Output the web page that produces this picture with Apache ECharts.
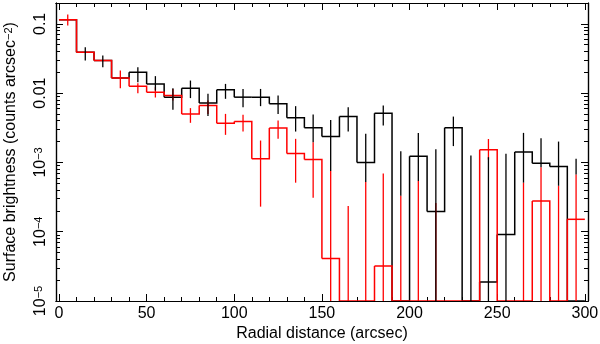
<!DOCTYPE html>
<html>
<head>
<meta charset="utf-8">
<script src="https://cdn.jsdelivr.net/npm/echarts@6/dist/echarts.min.js"></script>
<style>
  html, body { margin: 0; padding: 0; background: #fff; }
  #main { width: 600px; height: 344px; }
</style>
</head>
<body>
<div id="main"></div>
<script>
// bins (left edges, arcsec)
const binLeft = [0, 10, 20, 30, 40, 50, 60, 70, 80, 90, 100, 110, 120, 130, 140,
  150, 160, 170, 180, 190, 200, 210, 220, 230, 240, 250, 260, 270, 280, 290];
const binWidth = 10;

// black profile
const blackVals = [0.115, 0.039, 0.0296, 0.0166, 0.0201, 0.0136, 0.00875, 0.0118, 0.00718, 0.0112,
  0.00875, 0.00875, 0.00701, 0.0044, 0.00316, 0.00237, 0.0046, 0.001, 0.00514, 0,
  0.00123, 0.000195, 0.00316, 0, 0.0000188, 0.0000915, 0.00141, 0.000975, 0.000873, 0];
const blackHi = [null, 0.0461, 0.0349, null, 0.0237, 0.0176, 0.0118, 0.0152, 0.00977, 0.0136,
  0.0115, 0.0115, 0.00923, 0.00649, 0.0049, 0.0041, 0.00628, 0.00259, 0.00662, 0.00145,
  0.00267, 0.00155, 0.00459, 0.00126, 0.00119, 0.00133, 0.00267, 0.00224, 0.002, 0.00113];
const blackLo = [null, 0.0295, 0.0237, null, 0.0144, 0.0109, 0.00574, 0.00848, 0.00466, 0.00828,
  0.00628, 0.00649, 0.00502, 0.00279, 0.00195, 0.00075, 0.00279, 0.00052, 0.0034, 0.00033,
  0.00054, 0, 0.00172, 0, 0, 0, 0.00051, 0.00085, 0.00046, 0.00067];

// red profile
const redVals = [0.115, 0.039, 0.0296, 0.0166, 0.0126, 0.0103, 0.00925, 0.00502, 0.00662, 0.00369,
  0.0039, 0.00113, 0.00313, 0.00135, 0.0011, 0.000041, 0, 0, 0.000032, 0,
  0, 0, 0, 0, 0.00153, 0, 0, 0.000277, 0, 0.000151];
const redHi = [0.136, null, null, 0.0212, 0.0139, 0.0122, 0.0115, 0.00608, 0.00782, 0.00502,
  0.00486, 0.00207, 0.00403, 0.00219, 0.00195, 0.00075, 0.000235, 0.00052, 0.00069, 0.00033,
  0.00054, 0.00026, null, null, 0.00218, null, 0.00051, 0.00085, 0.00046, 0.00067];
const redLo = [0.0945, null, null, 0.0118, 0.01, 0.00865, 0.00782, 0.00373, 0.00502, 0.0025,
  0.00279, 0.00023, 0.00219, 0.00051, 0.00031, 0, 0, 0, 0, 0,
  0, 0, null, null, 0.0011, null, 0, 0, 0, 0];

// axis ticks / labels
const xMajor = [0, 50, 100, 150, 200, 250, 300];
const xMinor = [10, 20, 30, 40, 60, 70, 80, 90, 110, 120, 130, 140, 160, 170, 180, 190,
  210, 220, 230, 240, 260, 270, 280, 290];
const yMajor = [1e-5, 1e-4, 1e-3, 0.01, 0.1];
const yLabels = ['10{sup|−5}', '10{sup|−4}', '10{sup|−3}', '0.01', '0.1'];

const X_MIN = -1.7, X_MAX = 301.8;
const Y_MIN = 1e-5, Y_MAX = 0.2;

const yMinor = [];
yMajor.forEach(d => {
  for (let k = 2; k <= 9; k++) {
    const v = +(d * k).toPrecision(2);
    if (v < Y_MAX) yMinor.push(v);
  }
});

const FONT = 'Liberation Sans';
const clampY = v => Math.max(v, Y_MIN);

const dom = document.getElementById('main');
const myChart = echarts.init(dom, null, { renderer: 'canvas' });

function xAxisCfg(pos, ticks, len, withLabels) {
  return {
    type: 'value', position: pos, min: X_MIN, max: X_MAX,
    axisLine: { show: true, onZero: false, lineStyle: { color: '#000', width: 1.2 } },
    axisTick: { show: true, inside: true, length: len, customValues: ticks,
      lineStyle: { color: '#000', width: 1 } },
    axisLabel: withLabels ? {
      show: true, customValues: ticks, margin: 5, color: '#000',
      fontFamily: FONT, fontSize: 16
    } : { show: false },
    splitLine: { show: false },
    name: withLabels ? 'Radial distance (arcsec)' : '',
    nameLocation: 'middle', nameGap: 25, nameMoveOverlap: false,
    nameTextStyle: { color: '#000', fontFamily: FONT, fontSize: 16 }
  };
}

function yAxisCfg(pos, ticks, len, withLabels) {
  return {
    type: 'log', logBase: 10, position: pos, min: Y_MIN, max: Y_MAX,
    axisLine: { show: true, onZero: false, lineStyle: { color: '#000', width: 1.2 } },
    axisTick: { show: true, inside: true, length: len, customValues: ticks,
      lineStyle: { color: '#000', width: 1 } },
    axisLabel: withLabels ? {
      show: true, customValues: ticks, rotate: 90, margin: 7, color: '#000',
      fontFamily: FONT, fontSize: 16,
      formatter: v => yLabels[yMajor.findIndex(t => Math.abs(Math.log10(t) - Math.log10(v)) < 1e-6)],
      rich: { sup: { fontSize: 11, fontFamily: FONT, color: '#000', verticalAlign: 'top' } }
    } : { show: false },
    splitLine: { show: false },
    minorSplitLine: { show: false },
    name: withLabels ? 'Surface brightness (counts arcsec{sup|−2})' : '',
    nameLocation: 'middle', nameGap: 37, nameRotate: 90, nameMoveOverlap: false,
    nameTextStyle: {
      color: '#000', fontFamily: FONT, fontSize: 16,
      rich: { sup: { fontSize: 11, fontFamily: FONT, color: '#000', verticalAlign: 'top' } }
    }
  };
}

function stepRenderer(vals, color) {
  return function (params, api) {
    const i = params.dataIndex;
    const x0 = binLeft[i], x1 = binLeft[i] + binWidth;
    const pts = [api.coord([x0, clampY(vals[i])]), api.coord([x1, clampY(vals[i])])];
    if (i + 1 < vals.length) pts.push(api.coord([x1, clampY(vals[i + 1])]));
    return {
      type: 'polyline', shape: { points: pts },
      style: { stroke: color, lineWidth: 1.5, fill: null }
    };
  };
}

function errRenderer(lo, hi, color) {
  return function (params, api) {
    const i = params.dataIndex;
    if (lo[i] == null || hi[i] == null) return null;
    const xc = binLeft[i] + binWidth / 2;
    const a = api.coord([xc, clampY(lo[i])]);
    const b = api.coord([xc, clampY(hi[i])]);
    return {
      type: 'line', shape: { x1: a[0], y1: a[1], x2: b[0], y2: b[1] },
      style: { stroke: color, lineWidth: 1.3 }
    };
  };
}

function seriesData(vals) {
  return binLeft.map((x, i) => [x + binWidth / 2, clampY(vals[i])]);
}

function custom(name, vals, renderItem) {
  return {
    name: name, type: 'custom', xAxisIndex: 0, yAxisIndex: 0,
    clip: true, silent: true, animation: false,
    data: seriesData(vals), renderItem: renderItem
  };
}

myChart.setOption({
  animation: false,
  backgroundColor: '#fff',
  grid: { left: 56, right: 12, top: 3, bottom: 43, containLabel: false, outerBoundsMode: 'none' },
  xAxis: [
    xAxisCfg('bottom', xMajor, 7, true),
    xAxisCfg('bottom', xMinor, 4, false),
    xAxisCfg('top', xMajor, 7, false),
    xAxisCfg('top', xMinor, 4, false)
  ],
  yAxis: [
    yAxisCfg('left', yMajor, 7, true),
    yAxisCfg('left', yMinor, 4, false),
    yAxisCfg('right', yMajor, 7, false),
    yAxisCfg('right', yMinor, 4, false)
  ],
  series: [
    custom('black', blackVals, stepRenderer(blackVals, '#000')),
    custom('red', redVals, stepRenderer(redVals, '#ff0000')),
    custom('redErr', redVals, errRenderer(redLo, redHi, '#ff0000')),
    custom('blackErr', blackVals, errRenderer(blackLo, blackHi, '#000'))
  ]
});
</script>
</body>
</html>
